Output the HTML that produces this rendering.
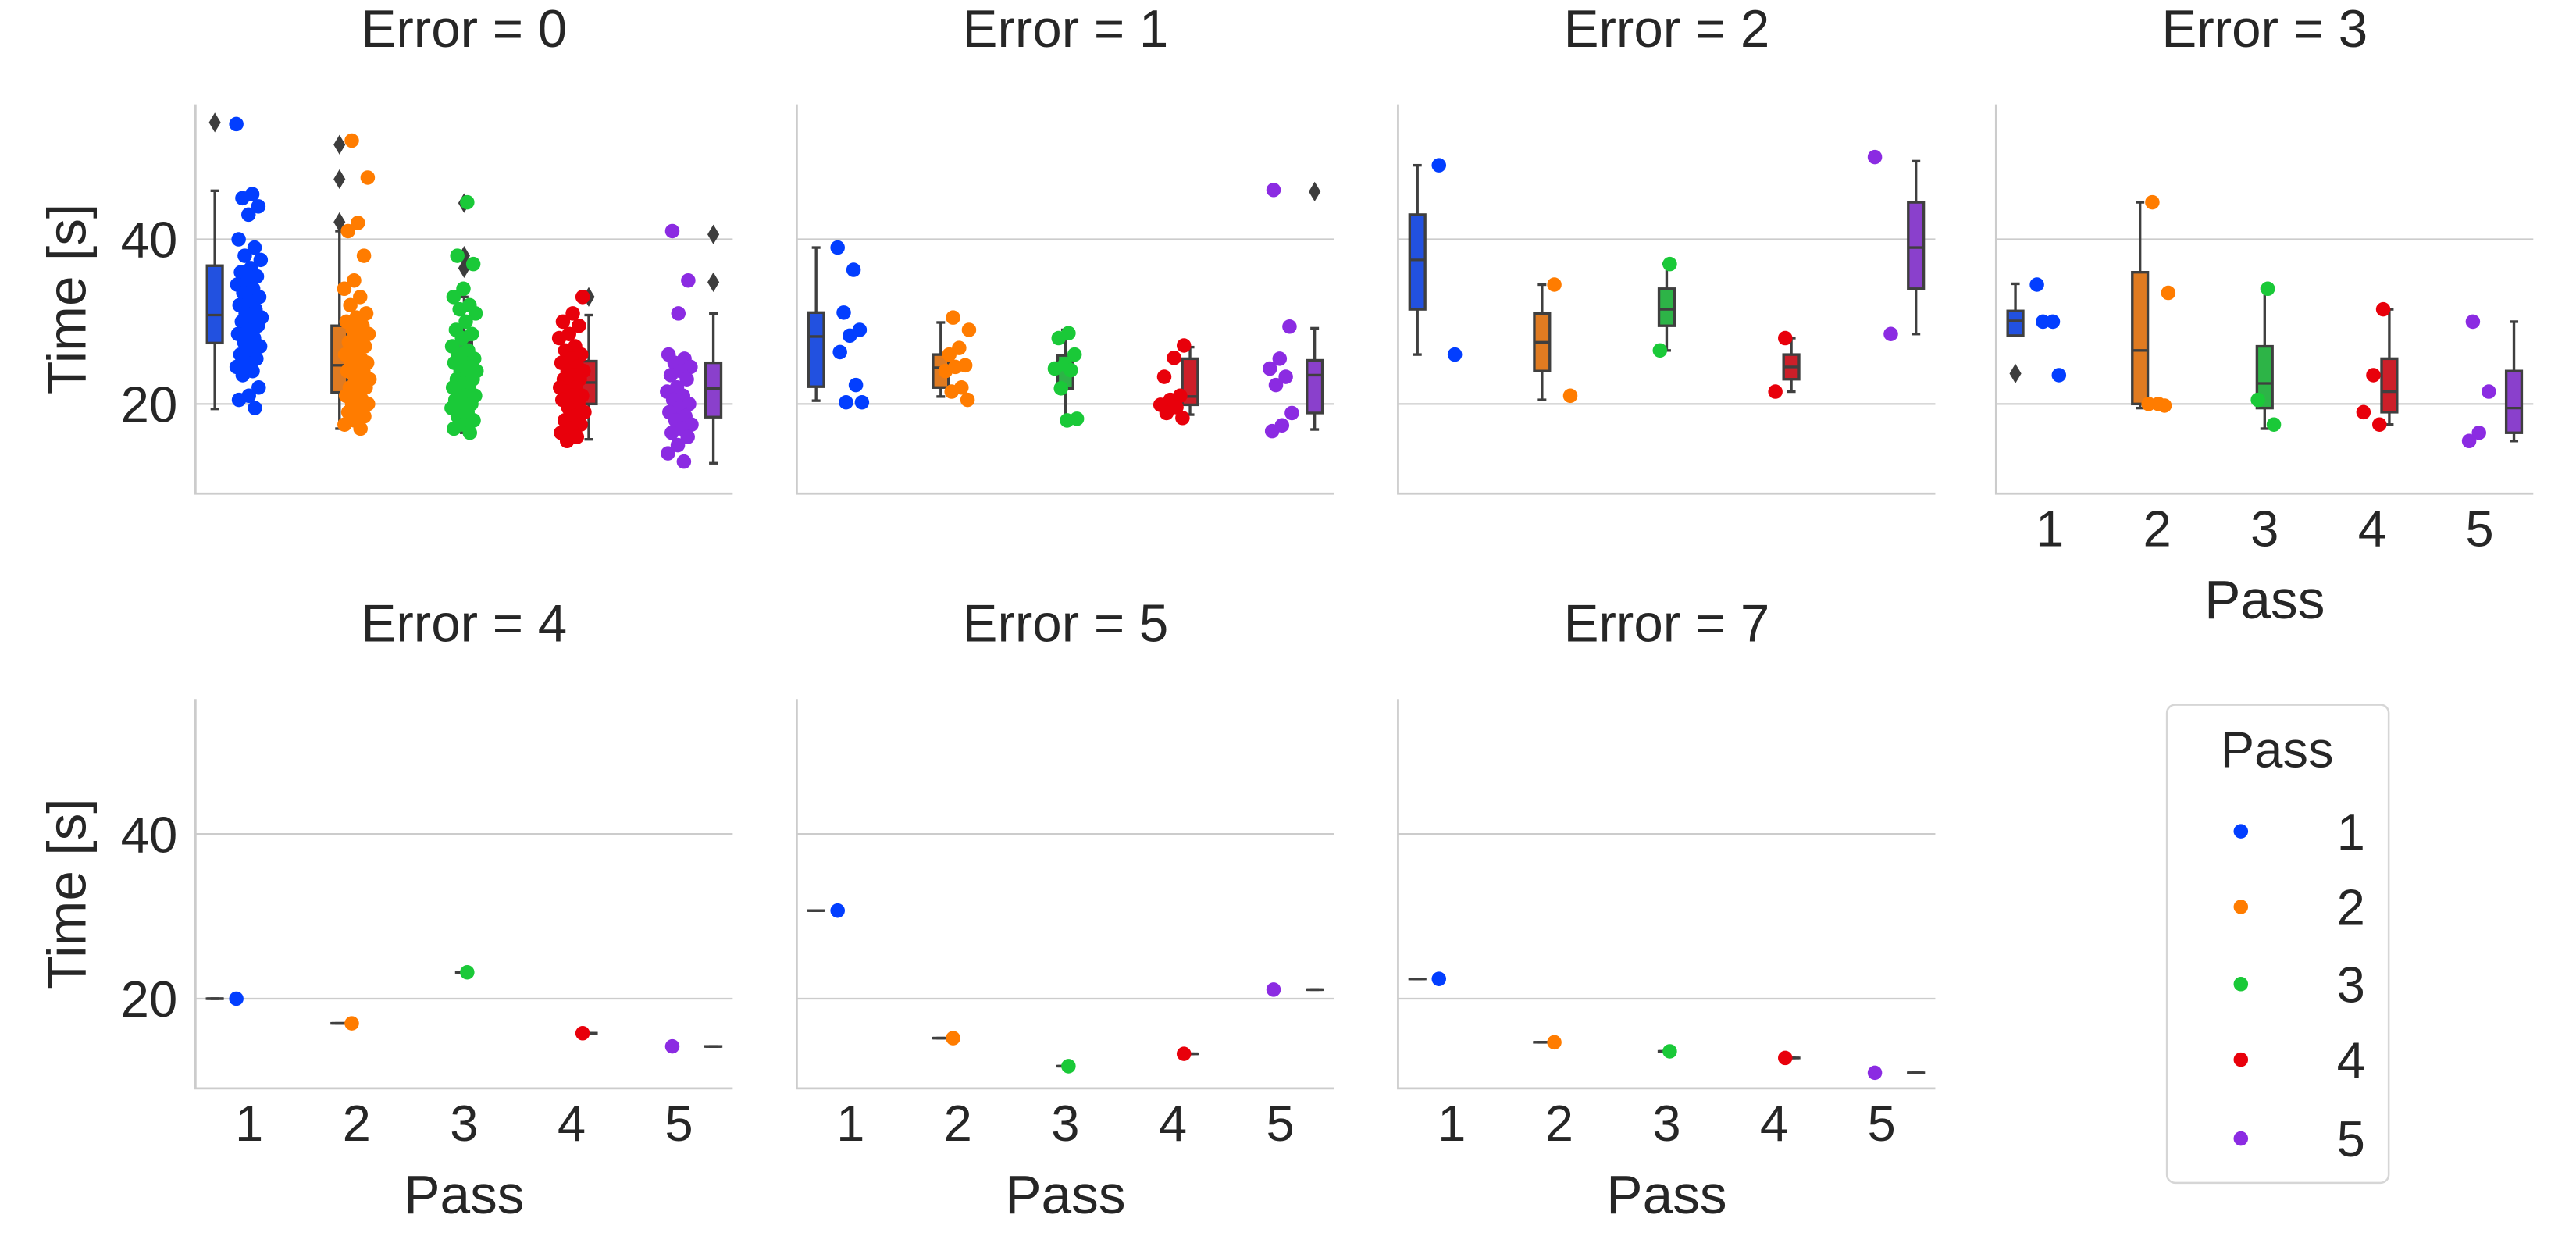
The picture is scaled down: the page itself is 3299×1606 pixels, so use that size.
<!DOCTYPE html>
<html><head><meta charset="utf-8"><style>
html,body{margin:0;padding:0;background:#fff}
svg{display:block;font-family:"Liberation Sans",sans-serif}
</style></head><body>
<svg id="chart" xmlns="http://www.w3.org/2000/svg" width="3299" height="1606" viewBox="0 0 1568 763.3"></svg>
<script>
const errors = [0,1,2,3,4,5,7];
const passes = [1,2,3,4,5];
const yTicks = [20,40];
// points[errorIndex][passIndex]
const points = [
 [[54,45.5,45,44,43,40,39,38,37.5,36.5,36,35.5,35,34.5,34,33.5,33,32.5,32,31.5,31,30.5,30,30,29.5,29,28.5,28,27.5,27,26.5,26,25.5,25,24.5,24,23.5,22,21,20.5,19.5],
  [52,47.5,42,41,38,35,34,33,32,31,30.5,30,29.5,29,28.5,28,27.5,27,26.5,26,25.5,25,25,24.5,24,24,23.5,23,22.5,22,22,21.5,21,20.5,20,20,19.5,19,18.5,18,17.5,17],
  [44.5,38,37,34,33,32,31.5,31,30,29,28.5,28,27,26.5,26,25.5,25,25,24.5,24,24,23.5,23,23,22.5,22,22,21.5,21,21,20.5,20,20,19.5,19,18.5,18,17.5,17,16.5],
  [33,31,30,29.5,28.5,28,27,26.5,26,25.5,25,24.5,24,24,23.5,23,23,22.5,22,22,21.5,21,21,20.5,20,19.5,19,18.5,18,17.5,17,16.5,16,15.5],
  [41,35,31,26,25.5,25,24.5,24,23.5,23,22,21.5,21,20.5,20,19.5,19,18.5,18,17.5,17,16.5,16,15,14,13]],
 [[39,36.3,31.1,29,28.3,26.3,22.3,20.2,20.2],
  [30.5,29,26.8,26,24.7,24.5,24,22,21.5,20.5],
  [28.6,28,26,24.8,24.3,24.1,21.9,18.2,18],
  [27.1,25.6,23.3,21,20.5,19.9,19.6,18.9,18.3],
  [46,29.4,25.5,24.3,23.3,22.3,18.9,17.4,16.7]],
 [[49,26],[34.5,21],[37,26.5],[28,21.5],[50,28.5]],
 [[34.5,30,30,23.5],[44.5,33.5,20,20,19.8],[34,20.5,17.5],[31.5,23.5,19,17.5],[30,21.5,16.5,15.5]],
 [[20],[17],[23.2],[15.8],[14.2]],
 [[30.7],[15.2],[11.8],[13.3],[21.1]],
 [[22.4],[14.7],[13.6],[12.8],[11]]
];
const q1 = [[27.4,21.4,20.5,20,18.4],[22.1,22,21.9,19.9,18.9],[31.5,24,29.5,23,34],[28.3,20,19.5,19,16.5],[20,17,23.2,15.8,14.2],[30.7,15.2,11.8,13.3,21.1],[22.4,14.7,13.6,12.8,11]];
const med = [[30.8,24.7,24,22.6,21.9],[28.2,24.4,24.2,20.9,23.5],[37.5,27.5,31.5,24.5,39],[30.1,26.5,22.5,21.5,19.5],[20,17,23.2,15.8,14.2],[30.7,15.2,11.8,13.3,21.1],[22.4,14.7,13.6,12.8,11]];
const q3 = [[36.8,29.5,27.5,25.2,25],[31.1,26,25.9,25.5,25.3],[43,31,34,26,44.5],[31.3,36,27,25.5,24],[20,17,23.2,15.8,14.2],[30.7,15.2,11.8,13.3,21.1],[22.4,14.7,13.6,12.8,11]];
const wLo = [[19.4,17,16.5,15.7,12.8],[20.4,20.9,18.2,18.7,16.9],[26,20.5,26.5,21.5,28.5],[28.3,19.5,17,17.5,15.5],[20,17,23.2,15.8,14.2],[30.7,15.2,11.8,13.3,21.1],[22.4,14.7,13.6,12.8,11]];
const wHi = [[45.9,41,33,30.8,31],[39,29.9,29,26.9,29.2],[49,34.5,37,28,49.5],[34.6,44.5,34,31.5,30],[20,17,23.2,15.8,14.2],[30.7,15.2,11.8,13.3,21.1],[22.4,14.7,13.6,12.8,11]];
const outliers = [[[54.2],[51.5,47.3,42.1],[44.4,38,36.5],[33],[40.6,34.8]],[[],[],[],[],[45.8]],[[],[],[],[],[]],[[23.7],[],[],[],[]],[[],[],[],[],[]],[[],[],[],[],[]],[[],[],[],[],[]]];

const colors = ['#023eff','#ff7c00','#1ac938','#e8000b','#8b2be2'];
const boxColors = ['#2251e0','#e07b21','#2db447','#cc1f29','#8a40cc'];
const NS='http://www.w3.org/2000/svg';
const svg=document.getElementById('chart');
function mk(tag,attrs,parent){const e=document.createElementNS(NS,tag);for(const k in attrs)e.setAttribute(k,attrs[k]);(parent||svg).appendChild(e);return e;}

const panelLefts=[119,485,851,1215];
const panelW=327;
const rowTop=[63.5,425.5], rowBottom=[300.5,662.5];
const yMin=9.1, yMax=56.4;

errors.forEach((err,ei)=>{
  const row = ei<4?0:1, col = ei<4?ei:ei-4;
  const L=panelLefts[col], T=rowTop[row], B=rowBottom[row];
  const g=mk('g',{});
  
  
  const ys=v=>B-(v-yMin)/(yMax-yMin)*(B-T);
  const cw=panelW/5;
  const xs=i=>L+cw*(i+0.5);
  yTicks.forEach(t=>{const l=mk('line',{x1:L,x2:L+panelW,y1:ys(t),y2:ys(t),stroke:'#cccccc','stroke-width':1.1},g);
    
    });
  const sp=mk('path',{d:`M${L} ${T}V${B}H${L+panelW}`,fill:'none',stroke:'#cccccc','stroke-width':1.3},g);
  
  
  const tt=mk('text',{x:L+panelW/2,y:T-35,'text-anchor':'middle','font-size':32,fill:'#262626'},g);
  tt.textContent='Error = '+err;
  
  
  if(col===0){
    yTicks.forEach(t=>{const tx=mk('text',{x:108,y:ys(t)+11,'text-anchor':'end','font-size':31,fill:'#262626'},g);tx.textContent=t;
      
      });
    const yl=mk('text',{x:0,y:0,transform:`translate(52,${(T+B)/2})`+' rotate(-90)','text-anchor':'middle','font-size':33,fill:'#262626'},g);
    yl.textContent='Time [s]';
    
    
  }
  if(row===1||col===3){
    passes.forEach((p,i)=>{const tx=mk('text',{x:xs(i),y:B+32,'text-anchor':'middle','font-size':31,fill:'#262626'},g);tx.textContent=p;
      
      });
    const xl=mk('text',{x:L+panelW/2,y:B+76,'text-anchor':'middle','font-size':33,fill:'#262626'},g);
    xl.textContent='Pass';
    
    
  }
  const bw=cw*0.16;
  passes.forEach((p,i)=>{
    const cx=xs(i)+(i-2)*bw;
    const bg=mk('g',{},g);
    
    
    const lc='#3f3f3f', lw=1.6, hw=bw*0.45;
    mk('line',{x1:cx,x2:cx,y1:ys(q3[ei][i]),y2:ys(wHi[ei][i]),stroke:lc,'stroke-width':lw},bg);
    mk('line',{x1:cx,x2:cx,y1:ys(q1[ei][i]),y2:ys(wLo[ei][i]),stroke:lc,'stroke-width':lw},bg);
    mk('line',{x1:cx-bw*0.25,x2:cx+bw*0.25,y1:ys(wHi[ei][i]),y2:ys(wHi[ei][i]),stroke:lc,'stroke-width':lw},bg);
    mk('line',{x1:cx-bw*0.25,x2:cx+bw*0.25,y1:ys(wLo[ei][i]),y2:ys(wLo[ei][i]),stroke:lc,'stroke-width':lw},bg);
    const top=ys(q3[ei][i]), bot=ys(q1[ei][i]);
    mk('rect',{x:cx-hw,y:top,width:2*hw,height:Math.max(bot-top,0.01),fill:boxColors[i],stroke:lc,'stroke-width':lw},bg);
    mk('line',{x1:cx-hw,x2:cx+hw,y1:ys(med[ei][i]),y2:ys(med[ei][i]),stroke:lc,'stroke-width':lw},bg);
    outliers[ei][i].forEach(o=>{const y=ys(o);
      const d=mk('path',{d:`M${cx} ${y-6}L${cx+3.6} ${y}L${cx} ${y+6}L${cx-3.6} ${y}Z`,fill:'#3d3d3d'},bg);
      
      });
  });
  passes.forEach((p,i)=>{
    points[ei][i].forEach((v,k)=>{
      const j=((k*0.618034+0.31*i)%1)*2-1;
      const c=mk('circle',{cx:xs(i)+j*cw*0.12,cy:ys(v),r:4.4,fill:colors[i]},g);
      
      
    });
  });
});

const lg=mk('g',{});


mk('rect',{x:1319,y:429,width:135,height:291,rx:5,fill:'#fff',stroke:'#d6d6d6','stroke-width':1.2},lg);
const lt=mk('text',{x:1386,y:467,'text-anchor':'middle','font-size':31,fill:'#262626'},lg);
lt.textContent='Pass';


const legY=[506,552,599,645,693];
passes.forEach((p,i)=>{
  const e=mk('g',{},lg);
  
  
  mk('circle',{cx:1364,cy:legY[i],r:4.4,fill:colors[i]},e);
  const t=mk('text',{x:1431,y:legY[i]+11,'text-anchor':'middle','font-size':31,fill:'#262626'},e);
  t.textContent=p;
});
</script>
</body></html>
